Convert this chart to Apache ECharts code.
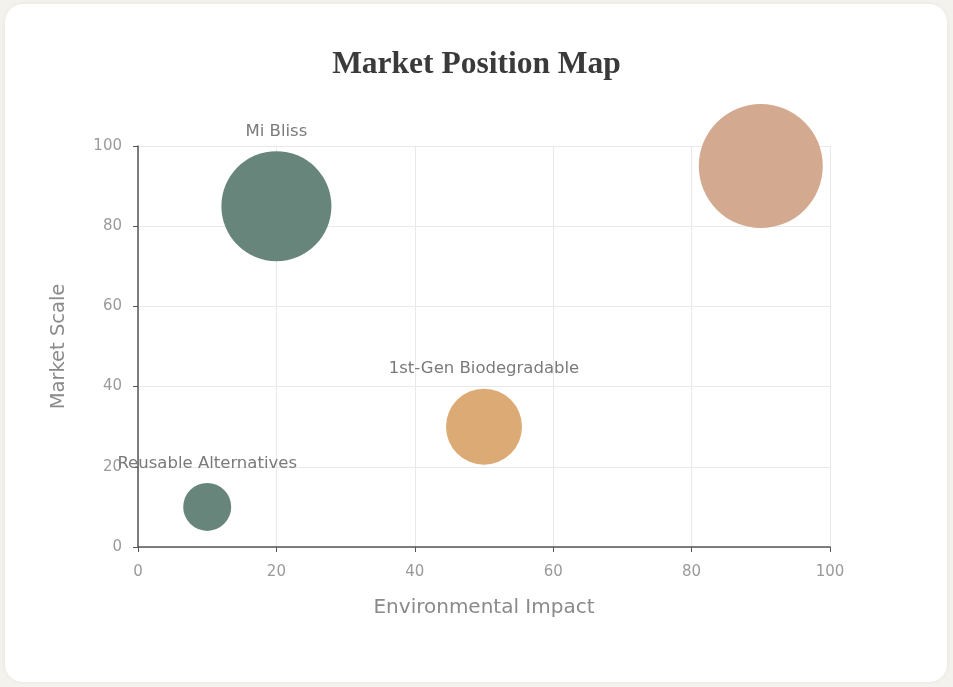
<!DOCTYPE html>
<html>
<head>
<meta charset="utf-8">
<script src="https://cdn.jsdelivr.net/npm/echarts@6/dist/echarts.min.js"></script>
<style>
html,body{margin:0;padding:0;width:953px;height:687px;background:#f3f2ec;overflow:hidden;}
#card{position:absolute;left:5px;top:4px;width:942px;height:678px;background:#fff;border-radius:18px;box-shadow:0 0 4px rgba(0,0,0,0.06);}
#chart{position:absolute;left:0;top:0;width:953px;height:687px;}
</style>
</head>
<body>
<div id="card"></div>
<div id="chart"></div>
<script>
const names = ["Mi Bliss", "Legacy Plastic", "1st-Gen Biodegradable", "Reusable Alternatives"];
const impact = [20, 90, 50, 10];
const scale = [85, 95, 30, 10];
const share = [55, 62, 38, 24];
const showLabel = [true, false, true, true];
const colors = ["#67857a", "#d3aa8f", "#dcaa74", "#67857a"];

const chart = echarts.init(document.getElementById('chart'), null, {renderer: 'canvas'});
const data = names.map((n, i) => ({
  name: n,
  value: [impact[i], scale[i], share[i]],
  itemStyle: {color: colors[i]},
  label: {show: showLabel[i]}
}));
const sans = 'DejaVu Sans';
chart.setOption({
  backgroundColor: 'transparent',
  title: {
    text: 'Market Position Map',
    left: 'center',
    top: 44,
    textStyle: {fontFamily: 'Liberation Serif', fontSize: 31.5, fontWeight: 'bold', color: '#3a3a3a'}
  },
  grid: {left: 138, right: 123, top: 146, bottom: 140},
  xAxis: {
    type: 'value', min: 0, max: 100, interval: 20,
    name: 'Environmental Impact', nameLocation: 'middle', nameGap: 51,
    nameTextStyle: {fontFamily: sans, fontSize: 20, color: '#8a8a8a'},
    axisLine: {show: true, lineStyle: {color: '#555', width: 1.5}},
    axisTick: {show: true, length: 5, lineStyle: {color: '#555'}},
    axisLabel: {fontFamily: sans, fontSize: 15, color: '#9a9a9a', margin: 18},
    splitLine: {show: true, lineStyle: {color: '#e9e9e9'}}
  },
  yAxis: {
    type: 'value', min: 0, max: 100, interval: 20,
    name: 'Market Scale', nameLocation: 'middle', nameGap: 69,
    nameTextStyle: {fontFamily: sans, fontSize: 19.5, color: '#8a8a8a'},
    axisLine: {show: true, lineStyle: {color: '#555', width: 1.5}},
    axisTick: {show: true, length: 5, lineStyle: {color: '#555'}},
    axisLabel: {fontFamily: sans, fontSize: 15, color: '#9a9a9a', margin: 16},
    splitLine: {show: true, lineStyle: {color: '#e9e9e9'}}
  },
  series: [{
    type: 'scatter',
    data: data,
    symbolSize: v => v[2] * 2,
    itemStyle: {opacity: 1},
    label: {
      position: 'top', distance: 11,
      formatter: p => p.name,
      fontFamily: sans, fontSize: 16.5, color: '#7a7a7a'
    }
  }]
});
</script>
</body>
</html>
